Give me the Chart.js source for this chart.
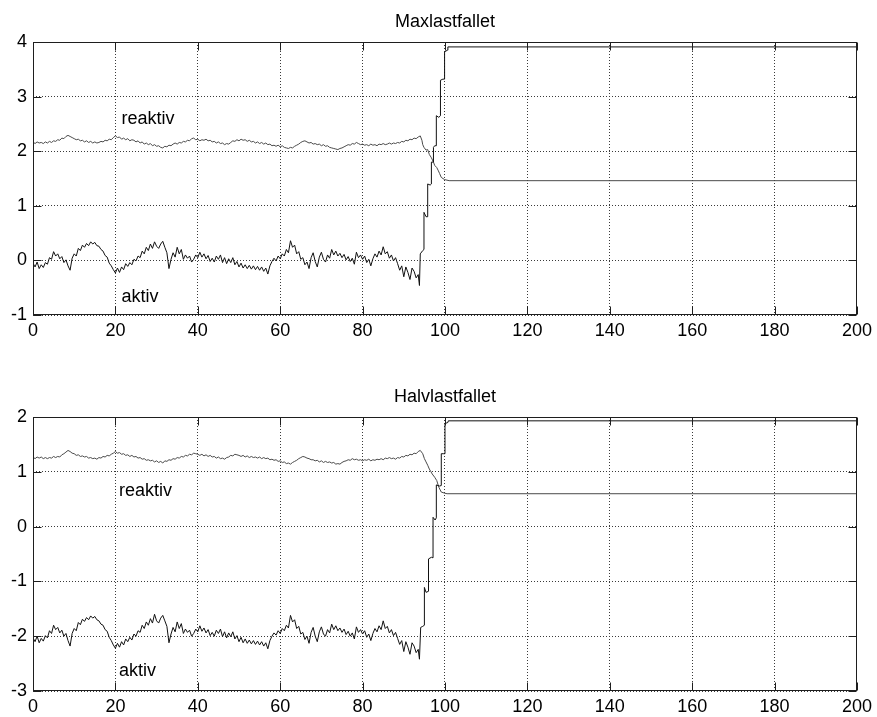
<!DOCTYPE html>
<html>
<head>
<meta charset="utf-8">
<script src="https://cdn.jsdelivr.net/npm/chart.js@4.4.0/dist/chart.umd.min.js"></script>
<style>
  html, body { margin: 0; padding: 0; background: #fff; }
  #wrap { position: relative; width: 877px; height: 717px; }
  canvas { position: absolute; left: 0; }
  #top { top: 0; }
  #bottom { top: 358px; }
</style>
</head>
<body>
<div id="wrap">
  <canvas id="top" width="877" height="358" style="width:877px;height:358px"></canvas>
  <canvas id="bottom" width="877" height="359" style="width:877px;height:359px"></canvas>
</div>
<script>
// sample step of the noisy part (t = 0 ... 93.5)
const dt = 0.5;

// Maxlastfallet
const aktivMax = [
  -0.05, -0.12, -0.03, -0.15, -0.08, -0.13, -0.04, -0.07, 0.05, 0.02,
  0.16, 0.08, 0.12, 0.03, 0.07, -0.04, 0.01, -0.10, -0.18, 0.04,
  0.12, 0.08, 0.22, 0.18, 0.28, 0.24, 0.31, 0.27, 0.34, 0.30,
  0.33, 0.27, 0.26, 0.20, 0.17, 0.09, 0.06, -0.05, -0.10, -0.17,
  -0.23, -0.14, -0.22, -0.12, -0.17, -0.06, -0.11, -0.04, -0.08, 0.02,
  -0.01, 0.08, 0.05, 0.17, 0.12, 0.24, 0.18, 0.30, 0.22, 0.34,
  0.26, 0.22, 0.30, 0.35, 0.24, 0.14, -0.15, 0.02, 0.14, 0.06,
  0.24, 0.12, 0.20, 0.02, 0.10, 0.04, 0.08, -0.03, 0.02, 0.10,
  0.05, 0.15, 0.06, 0.12, 0.03, 0.09, -0.02, 0.04, -0.03, 0.08,
  0.02, 0.10, -0.04, 0.05, -0.06, 0.03, -0.04, 0.05, -0.08, -0.02,
  -0.12, -0.05, -0.14, -0.08, -0.15, -0.09, -0.16, -0.10, -0.17, -0.11,
  -0.18, -0.12, -0.20, -0.14, -0.25, -0.10, -0.02, 0.04, -0.01, 0.08,
  0.03, 0.12, 0.08, 0.20, 0.14, 0.36, 0.24, 0.28, 0.12, 0.16,
  0.02, 0.05, -0.08, -0.03, -0.15, 0.05, 0.14, -0.02, -0.12, 0.06,
  0.15, 0.02, -0.03, 0.10, 0.04, 0.20, 0.10, 0.17, 0.08, 0.13,
  0.05, 0.11, 0.01, 0.07, -0.02, 0.04, -0.07, 0.15, 0.05, 0.10,
  0.02, 0.08, -0.04, 0.02, -0.10, 0.03, 0.12, 0.06, 0.17, 0.10,
  0.25, 0.12, 0.16, 0.04, 0.10, -0.01, 0.05, -0.06, -0.18, -0.10,
  -0.30, -0.12, -0.22, -0.35, -0.14, -0.20, -0.32, -0.26
];
const aktivMaxRampX = [93.8, 94.0, 94.6, 94.9, 94.9, 95.4, 95.8, 95.8, 96.4, 96.7, 96.7, 97.2, 97.2,
  97.5, 97.9, 97.9, 98.5, 98.9, 98.9, 99.5, 99.9, 99.9, 100.6, 100.7, 200];
const aktivMaxRampY = [-0.46, 0.12, 0.18, 0.20, 0.88, 0.80, 0.80, 1.40, 1.38, 1.40, 1.80, 1.80, 2.07,
  2.10, 2.10, 2.65, 2.62, 2.65, 3.30, 3.32, 3.32, 3.82, 3.85, 3.91, 3.91];

const reaktivMax = [
  2.17, 2.14, 2.17, 2.15, 2.16, 2.14, 2.17, 2.15, 2.18, 2.16,
  2.19, 2.18, 2.21, 2.20, 2.24, 2.23, 2.27, 2.29, 2.27, 2.25,
  2.23, 2.21, 2.22, 2.19, 2.20, 2.17, 2.19, 2.16, 2.18, 2.15,
  2.17, 2.15, 2.16, 2.18, 2.17, 2.20, 2.19, 2.22, 2.21, 2.25,
  2.28, 2.25, 2.26, 2.22, 2.24, 2.21, 2.23, 2.19, 2.21, 2.20,
  2.17, 2.19, 2.15, 2.17, 2.13, 2.15, 2.12, 2.14, 2.10, 2.12,
  2.09, 2.10, 2.07, 2.06, 2.09, 2.08, 2.11, 2.10, 2.13, 2.15,
  2.13, 2.16, 2.15, 2.18, 2.17, 2.20, 2.19, 2.23, 2.24, 2.21,
  2.22, 2.19, 2.21, 2.20, 2.22, 2.19, 2.20, 2.17, 2.18, 2.15,
  2.17, 2.14, 2.15, 2.12, 2.14, 2.13, 2.16, 2.19, 2.18, 2.21,
  2.19, 2.22, 2.20, 2.21, 2.18, 2.20, 2.17, 2.18, 2.15, 2.17,
  2.14, 2.16, 2.13, 2.15, 2.12, 2.13, 2.10, 2.11, 2.09, 2.11,
  2.08, 2.10, 2.07, 2.06, 2.05, 2.07, 2.06, 2.09, 2.11, 2.13,
  2.16, 2.18, 2.19, 2.17, 2.15, 2.16, 2.13, 2.14, 2.12, 2.13,
  2.10, 2.12, 2.09, 2.10, 2.07, 2.06, 2.05, 2.04, 2.03, 2.05,
  2.06, 2.08, 2.10, 2.12, 2.11, 2.14, 2.13, 2.16, 2.14, 2.12,
  2.13, 2.11, 2.12, 2.10, 2.13, 2.11, 2.12, 2.10, 2.13, 2.12,
  2.14, 2.12, 2.13, 2.15, 2.13, 2.15, 2.14, 2.16, 2.15, 2.18,
  2.17, 2.20, 2.19, 2.22, 2.21, 2.24, 2.23, 2.26
];
const reaktivMaxRampX = [94.0, 94.4, 94.6, 94.9, 95.4, 95.8, 96.2, 96.7, 97.2, 97.5, 98.0, 98.4, 98.7, 99.1, 99.9, 101.0, 200];
const reaktivMaxRampY = [2.28, 2.20, 2.12, 2.07, 2.02, 2.03, 1.94, 1.88, 1.80, 1.74, 1.70, 1.64, 1.59, 1.52, 1.48, 1.46, 1.46];

// Halvlastfallet
const aktivHalv = [
  -2.03, -2.10, -2.00, -2.12, -2.04, -2.09, -1.99, -2.03, -1.90, -1.95,
  -1.80, -1.88, -1.84, -1.94, -1.89, -2.00, -1.95, -2.08, -2.18, -1.95,
  -1.86, -1.90, -1.75, -1.79, -1.69, -1.73, -1.66, -1.70, -1.63, -1.67,
  -1.64, -1.70, -1.72, -1.78, -1.80, -1.88, -1.91, -2.02, -2.08, -2.16,
  -2.22, -2.13, -2.20, -2.10, -2.16, -2.05, -2.10, -2.02, -2.07, -1.96,
  -2.00, -1.90, -1.93, -1.80, -1.86, -1.74, -1.80, -1.68, -1.76, -1.60,
  -1.72, -1.76, -1.67, -1.62, -1.72, -1.82, -2.12, -1.96, -1.84, -1.92,
  -1.74, -1.86, -1.77, -1.95, -1.87, -1.93, -1.89, -2.00, -1.95, -1.87,
  -1.92, -1.81, -1.91, -1.85, -1.94, -1.88, -1.99, -1.93, -2.00, -1.89,
  -1.95, -1.87, -2.01, -1.92, -2.03, -1.94, -2.01, -1.92, -2.05, -1.99,
  -2.10, -2.02, -2.12, -2.05, -2.13, -2.07, -2.14, -2.08, -2.15, -2.09,
  -2.16, -2.10, -2.18, -2.12, -2.23, -2.08, -2.00, -1.94, -1.98, -1.90,
  -1.95, -1.86, -1.90, -1.80, -1.85, -1.62, -1.74, -1.70, -1.86, -1.82,
  -1.96, -1.93, -2.06, -2.00, -2.13, -1.93, -1.84, -2.00, -2.10, -1.92,
  -1.83, -1.96, -2.00, -1.88, -1.94, -1.78, -1.88, -1.81, -1.90, -1.85,
  -1.93, -1.87, -1.97, -1.91, -2.00, -1.94, -2.05, -1.83, -1.93, -1.88,
  -1.96, -1.90, -2.02, -1.96, -2.08, -1.95, -1.86, -1.92, -1.81, -1.88,
  -1.72, -1.86, -1.82, -1.94, -1.88, -1.99, -1.93, -2.04, -2.15, -2.08,
  -2.28, -2.10, -2.20, -2.33, -2.12, -2.18, -2.30, -2.24
];
const aktivHalvRampX = [93.8, 94.1, 94.6, 95.0, 95.0, 95.4, 96.0, 96.0, 96.7, 97.1, 97.1, 97.6, 97.9,
  97.9, 98.7, 99.1, 99.1, 99.7, 100.0, 100.0, 100.7, 100.8, 200];
const aktivHalvRampY = [-2.42, -1.84, -1.82, -1.80, -1.11, -1.20, -1.18, -0.59, -0.56, -0.57, 0.17, 0.12, 0.16,
  0.76, 0.74, 0.75, 1.33, 1.33, 1.33, 1.88, 1.90, 1.93, 1.93];

const reaktivHalv = [
  1.27, 1.24, 1.27, 1.25, 1.27, 1.24, 1.26, 1.24, 1.26, 1.25,
  1.28, 1.26, 1.28, 1.27, 1.31, 1.33, 1.36, 1.39, 1.37, 1.34,
  1.33, 1.30, 1.31, 1.28, 1.29, 1.27, 1.28, 1.25, 1.26, 1.24,
  1.25, 1.23, 1.26, 1.25, 1.28, 1.27, 1.30, 1.29, 1.32, 1.34,
  1.37, 1.34, 1.35, 1.32, 1.33, 1.30, 1.31, 1.28, 1.30, 1.27,
  1.28, 1.25, 1.26, 1.23, 1.24, 1.21, 1.22, 1.20, 1.21, 1.18,
  1.20, 1.17, 1.19, 1.16, 1.20, 1.19, 1.22, 1.21, 1.24, 1.23,
  1.26, 1.25, 1.28, 1.27, 1.30, 1.29, 1.32, 1.31, 1.34, 1.33,
  1.32, 1.30, 1.32, 1.29, 1.31, 1.28, 1.30, 1.27, 1.28, 1.25,
  1.27, 1.24, 1.25, 1.23, 1.26, 1.27, 1.30, 1.29, 1.32, 1.31,
  1.30, 1.28, 1.30, 1.27, 1.29, 1.26, 1.28, 1.26, 1.27, 1.25,
  1.27, 1.24, 1.26, 1.24, 1.25, 1.22, 1.23, 1.21, 1.22, 1.19,
  1.20, 1.17, 1.18, 1.15, 1.16, 1.14, 1.17, 1.19, 1.21, 1.24,
  1.26, 1.28, 1.27, 1.25, 1.24, 1.22, 1.22, 1.20, 1.21, 1.18,
  1.20, 1.17, 1.19, 1.17, 1.18, 1.16, 1.17, 1.14, 1.15, 1.14,
  1.17, 1.19, 1.20, 1.22, 1.21, 1.24, 1.22, 1.23, 1.21, 1.22,
  1.20, 1.22, 1.21, 1.23, 1.20, 1.22, 1.21, 1.23, 1.22, 1.24,
  1.22, 1.25, 1.24, 1.26, 1.24, 1.25, 1.23, 1.26, 1.25, 1.28,
  1.27, 1.30, 1.29, 1.32, 1.31, 1.34, 1.33, 1.37
];
const reaktivHalvRampX = [94.0, 94.6, 95.0, 95.4, 95.8, 96.2, 96.6, 96.9, 97.5, 98.0, 98.5, 99.1, 99.9, 100.5, 200];
const reaktivHalvRampY = [1.39, 1.33, 1.24, 1.18, 1.12, 1.05, 1.00, 0.96, 0.90, 0.84, 0.72, 0.63, 0.61, 0.60, 0.60];

const FONT_FAMILY = '"Liberation Sans", Arial, Helvetica, sans-serif';
const TICK_LEN = 8;

Chart.defaults.font.family = FONT_FAMILY;
Chart.defaults.font.size = 18;
Chart.defaults.color = '#000';

/**
 * Noisy samples followed by the step ramp and the flat tail
 */
function buildSeries(values, rampX, rampY) {
    const pts = values.map((v, i) => ({ x: i * dt, y: v }));
    rampX.forEach((x, i) => pts.push({ x: x, y: rampY[i] }));
    return pts;
}

/**
 * MATLAB style frame: full box, inward ticks, title and text labels
 */
function matlabFrame(title, labels) {
    return {
        id: 'matlabFrame',
        afterDraw(chart) {
            const { ctx, chartArea: a, scales } = chart;
            const L = Math.round(a.left) + 0.5, R = Math.round(a.right) - 0.5;
            const T = Math.round(a.top) + 0.5, B = Math.round(a.bottom) - 0.5;
            ctx.save();
            ctx.strokeStyle = '#1e1e1e';
            ctx.lineWidth = 1;
            ctx.beginPath();
            scales.x.ticks.forEach(t => {
                const px = Math.round(scales.x.getPixelForValue(t.value)) + 0.5;
                ctx.moveTo(px, B); ctx.lineTo(px, B - TICK_LEN);
                ctx.moveTo(px, T); ctx.lineTo(px, T + TICK_LEN);
            });
            scales.y.ticks.forEach(t => {
                const py = Math.round(scales.y.getPixelForValue(t.value)) + 0.5;
                ctx.moveTo(L, py); ctx.lineTo(L + TICK_LEN, py);
                ctx.moveTo(R, py); ctx.lineTo(R - TICK_LEN, py);
            });
            ctx.stroke();
            ctx.strokeRect(L, T, R - L, B - T);

            ctx.fillStyle = '#000';
            ctx.font = '18px ' + FONT_FAMILY;
            ctx.textAlign = 'center';
            ctx.textBaseline = 'alphabetic';
            ctx.fillText(title, (a.left + a.right) / 2, a.top - 15);

            ctx.textAlign = 'left';
            labels.forEach(l => {
                ctx.fillText(l.text, scales.x.getPixelForValue(l.x), scales.y.getPixelForValue(l.y));
            });
            ctx.restore();
        }
    };
}

function makeChart(canvasId, cfg) {
    const canvas = document.getElementById(canvasId);
    return new Chart(canvas, {
        type: 'line',
        data: {
            datasets: [
                { data: cfg.aktiv, borderColor: '#111', borderWidth: 1, pointRadius: 0, tension: 0 },
                { data: cfg.reaktiv, borderColor: '#4a4a4a', borderWidth: 1, pointRadius: 0, tension: 0 }
            ]
        },
        options: {
            responsive: false,
            animation: false,
            devicePixelRatio: 1,
            parsing: false,
            layout: { padding: { top: cfg.top, right: 19, left: 0, bottom: 0 } },
            plugins: { legend: { display: false }, tooltip: { enabled: false }, title: { display: false } },
            scales: {
                x: {
                    type: 'linear',
                    min: 0, max: 200,
                    ticks: { stepSize: 20, padding: 5, color: '#000', maxRotation: 0 },
                    grid: { color: '#3a3a3a', lineWidth: 1, drawTicks: false },
                    border: { display: false, dash: [1, 2] },
                    afterFit: (scale) => { scale.height = cfg.xAxisHeight; }
                },
                y: {
                    type: 'linear',
                    min: cfg.yMin, max: cfg.yMax,
                    ticks: { stepSize: 1, padding: 6, color: '#000' },
                    grid: { color: '#3a3a3a', lineWidth: 1, drawTicks: false },
                    border: { display: false, dash: [1, 2] },
                    afterFit: (scale) => { scale.width = 33; }
                }
            }
        },
        plugins: [matlabFrame(cfg.title, cfg.labels)]
    });
}

makeChart('top', {
    title: 'Maxlastfallet',
    aktiv: buildSeries(aktivMax, aktivMaxRampX, aktivMaxRampY),
    reaktiv: buildSeries(reaktivMax, reaktivMaxRampX, reaktivMaxRampY),
    yMin: -1, yMax: 4,
    top: 42, xAxisHeight: 43,
    labels: [
        { text: 'reaktiv', x: 21.5, y: 2.5 },
        { text: 'aktiv', x: 21.5, y: -0.76 }
    ]
});

makeChart('bottom', {
    title: 'Halvlastfallet',
    aktiv: buildSeries(aktivHalv, aktivHalvRampX, aktivHalvRampY),
    reaktiv: buildSeries(reaktivHalv, reaktivHalvRampX, reaktivHalvRampY),
    yMin: -3, yMax: 2,
    top: 59, xAxisHeight: 26,
    labels: [
        { text: 'reaktiv', x: 20.9, y: 0.55 },
        { text: 'aktiv', x: 20.9, y: -2.72 }
    ]
});
</script>
</body>
</html>
